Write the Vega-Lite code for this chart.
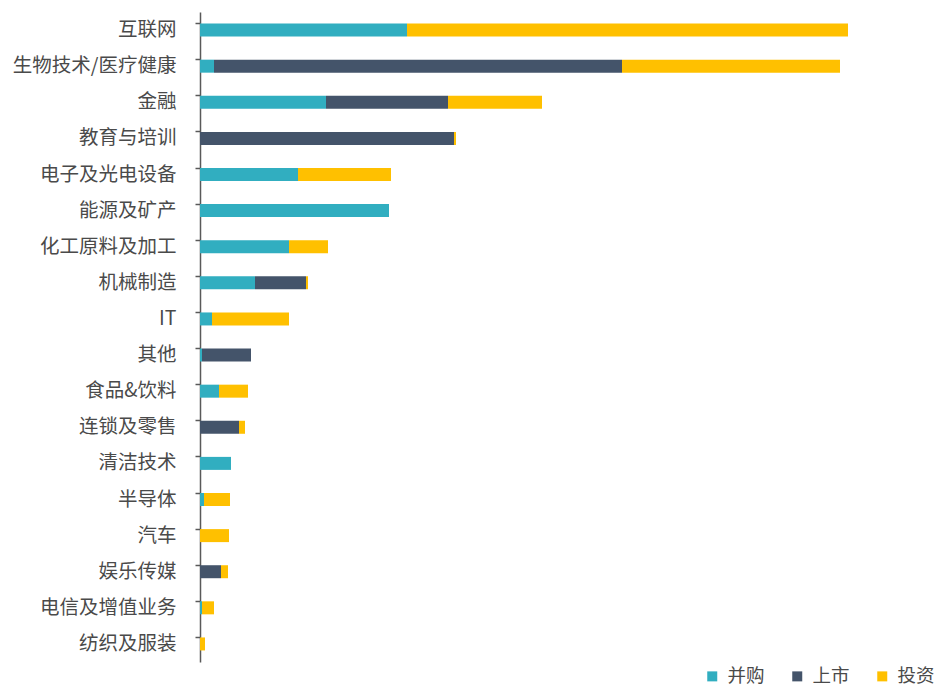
{
  "$schema": "https://vega.github.io/schema/vega-lite/v6.json",
  "width": 700,
  "height": 650,
  "autosize": "none",
  "padding": {"left": 200, "top": 12, "right": 42, "bottom": 27},
  "background": "white",
  "config": {"view": {"stroke": null}, "font": "Noto Sans CJK SC"},
  "data": {"values": [
    {"industry": "互联网", "type": "并购", "value": 207},
    {"industry": "互联网", "type": "投资", "value": 441},
    {"industry": "生物技术/医疗健康", "type": "并购", "value": 14},
    {"industry": "生物技术/医疗健康", "type": "上市", "value": 408},
    {"industry": "生物技术/医疗健康", "type": "投资", "value": 218},
    {"industry": "金融", "type": "并购", "value": 126},
    {"industry": "金融", "type": "上市", "value": 122},
    {"industry": "金融", "type": "投资", "value": 94},
    {"industry": "教育与培训", "type": "上市", "value": 254},
    {"industry": "教育与培训", "type": "投资", "value": 2},
    {"industry": "电子及光电设备", "type": "并购", "value": 98},
    {"industry": "电子及光电设备", "type": "投资", "value": 93},
    {"industry": "能源及矿产", "type": "并购", "value": 189},
    {"industry": "化工原料及加工", "type": "并购", "value": 89},
    {"industry": "化工原料及加工", "type": "投资", "value": 39},
    {"industry": "机械制造", "type": "并购", "value": 55},
    {"industry": "机械制造", "type": "上市", "value": 51},
    {"industry": "机械制造", "type": "投资", "value": 2},
    {"industry": "IT", "type": "并购", "value": 12},
    {"industry": "IT", "type": "投资", "value": 77},
    {"industry": "其他", "type": "并购", "value": 2},
    {"industry": "其他", "type": "上市", "value": 49},
    {"industry": "食品&饮料", "type": "并购", "value": 19},
    {"industry": "食品&饮料", "type": "投资", "value": 29},
    {"industry": "连锁及零售", "type": "上市", "value": 39},
    {"industry": "连锁及零售", "type": "投资", "value": 6},
    {"industry": "清洁技术", "type": "并购", "value": 31},
    {"industry": "半导体", "type": "并购", "value": 4},
    {"industry": "半导体", "type": "投资", "value": 26},
    {"industry": "汽车", "type": "投资", "value": 29},
    {"industry": "娱乐传媒", "type": "上市", "value": 21},
    {"industry": "娱乐传媒", "type": "投资", "value": 7},
    {"industry": "电信及增值业务", "type": "并购", "value": 2},
    {"industry": "电信及增值业务", "type": "投资", "value": 12},
    {"industry": "纺织及服装", "type": "投资", "value": 5}
  ]},
  "transform": [
    {"calculate": "indexof(['并购','上市','投资'], datum.type)", "as": "ord"}
  ],
  "mark": {"type": "bar"},
  "encoding": {
    "y": {
      "field": "industry",
      "type": "nominal",
      "sort": ["互联网","生物技术/医疗健康","金融","教育与培训","电子及光电设备","能源及矿产","化工原料及加工","机械制造","IT","其他","食品&饮料","连锁及零售","清洁技术","半导体","汽车","娱乐传媒","电信及增值业务","纺织及服装"],
      "scale": {"paddingInner": 0.64, "paddingOuter": 0.32},
      "axis": {
        "title": null,
        "domainColor": "#595959",
        "domainWidth": 1.5,
        "tickColor": "#595959",
        "tickWidth": 1.5,
        "tickSize": 5,
        "bandPosition": 0,
        "labelFontSize": 19.5,
        "labelColor": "#4a4a4a",
        "labelPadding": 19,
        "labelFont": "Noto Sans CJK SC"
      }
    },
    "x": {
      "field": "value",
      "type": "quantitative",
      "stack": "zero",
      "scale": {"domain": [0, 700], "nice": false},
      "axis": null
    },
    "color": {
      "field": "type",
      "type": "nominal",
      "scale": {"domain": ["并购","上市","投资"], "range": ["#31AEC0","#44546A","#FFC000"]},
      "legend": {
        "title": null,
        "orient": "none",
        "direction": "horizontal",
        "legendX": 503,
        "legendY": 655,
        "symbolType": "square",
        "symbolSize": 100,
        "symbolStrokeWidth": 0,
        "labelFontSize": 18.5,
        "labelColor": "#4a4a4a",
        "labelFont": "Noto Sans CJK SC",
        "columnPadding": 23,
        "labelOffset": 6
      }
    },
    "order": {"field": "ord", "type": "quantitative"}
  }
}
